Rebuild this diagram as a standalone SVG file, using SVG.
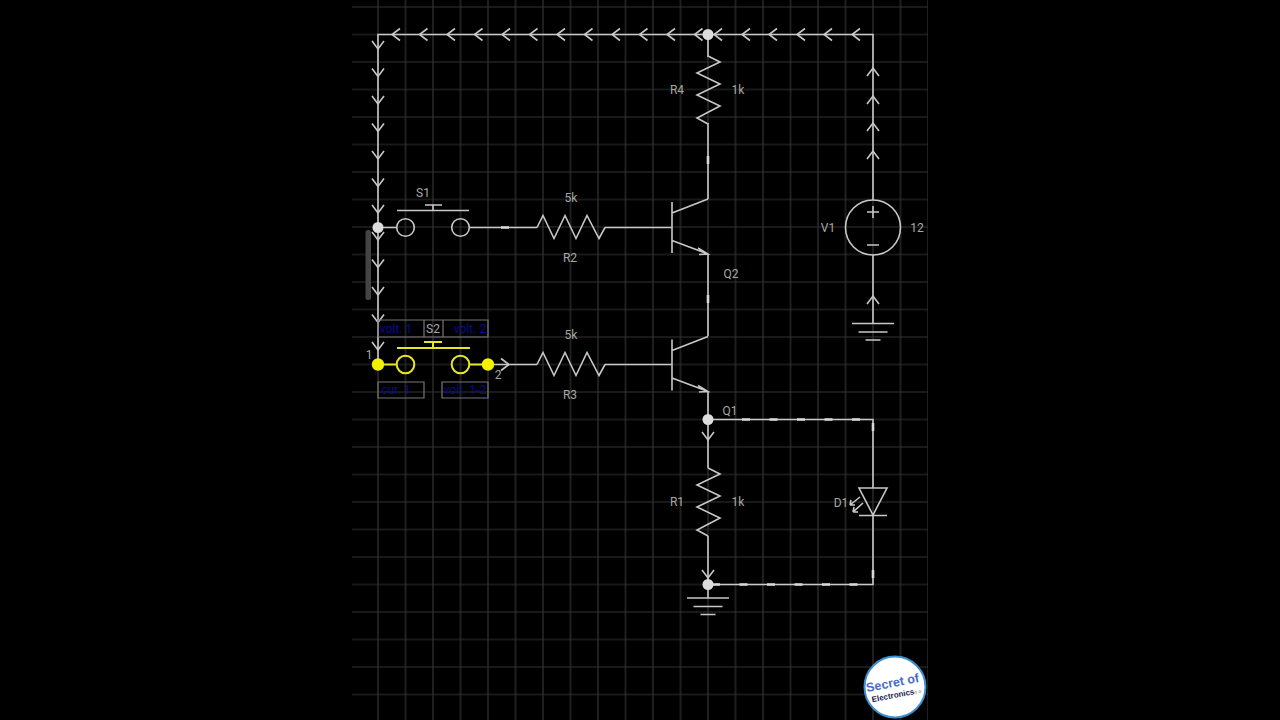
<svg xmlns="http://www.w3.org/2000/svg" width="1280" height="720" viewBox="0 0 1280 720">
<style>
.g{stroke:#323232;stroke-width:1.2;fill:none}
.w{stroke:#c8c8c8;stroke-width:1.6;fill:none}
.h{stroke:#d8d8d8;stroke-width:2.6;fill:none}
.y{stroke:#e8e820;stroke-width:2;fill:none}
.b{stroke:#777;stroke-width:1.2;fill:none}
.n{fill:#ddd}
.yn{fill:#f2f200}
text{font-family:Roboto,"Liberation Sans",sans-serif;font-size:12px;fill:#a8a8a8;text-anchor:middle}
.v{fill:#0a0a90}
</style>
<defs>
<pattern id="grid" x="336.750" y="-6.750" width="27.5" height="27.5" patternUnits="userSpaceOnUse">
<path d="M0,13.750H27.5M13.750,0V27.5" class="g"/>
</pattern>
<path id="c" d="M-8,-6L0,0L-8,6" class="w"/>
<path id="zz" d="M0,0L6,-12L17,11L28,-12L39,11L50,-12L62,11L68,0" class="w"/>
<g id="gnd"><path d="M-21,0H21M-14.5,8.500H14.500M-7.500,16.500H7.500" class="w"/></g>
<g id="npn"><path d="M0,0V51M0,11L36,-3M0,38.500L36,52M26,46L36,52L27,52.500" class="w"/></g>
</defs>
<rect width="1280" height="720" fill="#000"/>
<rect id="grid-area" x="352" y="0" width="576" height="720" fill="url(#grid)"/>
<rect id="scrollbar" x="365.500" y="230" width="5.500" height="70" rx="2.500" fill="#444"/>

<g id="connectors">
<path class="w" d="M873,200V34.500H378V365M378,227.500H396M469,227.500H537M605,227.500H672M488,364.500H537M605,364.500H672M708,34.500V57M708,123V199M708,254V336M708,391V468M708,536V584.500M708,584.500V598M708,419.500H873V488M873,515V584.500H708M873,255V323"/>
<path class="h" d="M742,419.500H860M712,584.500H860" stroke-dasharray="8 19.500"/>
<path class="h" d="M873,423V431M873,570V578M708,156V164M708,295V303M501,227.500H509"/>
<g id="arrows">
<use href="#c" transform="translate(392,34.500) rotate(180)"/><use href="#c" transform="translate(419.500,34.500) rotate(180)"/><use href="#c" transform="translate(447,34.500) rotate(180)"/><use href="#c" transform="translate(474.500,34.500) rotate(180)"/><use href="#c" transform="translate(502,34.500) rotate(180)"/><use href="#c" transform="translate(529.500,34.500) rotate(180)"/><use href="#c" transform="translate(557,34.500) rotate(180)"/><use href="#c" transform="translate(584.500,34.500) rotate(180)"/><use href="#c" transform="translate(612,34.500) rotate(180)"/><use href="#c" transform="translate(639.500,34.500) rotate(180)"/><use href="#c" transform="translate(667,34.500) rotate(180)"/><use href="#c" transform="translate(694.500,34.500) rotate(180)"/>
<use href="#c" transform="translate(714,34.500) rotate(180)"/><use href="#c" transform="translate(742,34.500) rotate(180)"/><use href="#c" transform="translate(769,34.500) rotate(180)"/><use href="#c" transform="translate(797,34.500) rotate(180)"/><use href="#c" transform="translate(824,34.500) rotate(180)"/><use href="#c" transform="translate(852,34.500) rotate(180)"/>
<use href="#c" transform="translate(378,49) rotate(90)"/><use href="#c" transform="translate(378,76.500) rotate(90)"/><use href="#c" transform="translate(378,104) rotate(90)"/><use href="#c" transform="translate(378,131.500) rotate(90)"/><use href="#c" transform="translate(378,159) rotate(90)"/><use href="#c" transform="translate(378,186.500) rotate(90)"/><use href="#c" transform="translate(378,213) rotate(90)"/><use href="#c" transform="translate(378,240) rotate(90)"/><use href="#c" transform="translate(378,267.500) rotate(90)"/><use href="#c" transform="translate(378,295) rotate(90)"/><use href="#c" transform="translate(378,322.500) rotate(90)"/><use href="#c" transform="translate(378,350) rotate(90)"/>
<use href="#c" transform="translate(873,68) rotate(-90)"/><use href="#c" transform="translate(873,96) rotate(-90)"/><use href="#c" transform="translate(873,123) rotate(-90)"/><use href="#c" transform="translate(873,151) rotate(-90)"/><use href="#c" transform="translate(873,296) rotate(-90)"/>
<use href="#c" transform="translate(708,440) rotate(90)"/><use href="#c" transform="translate(708,578) rotate(90)"/>
<use href="#c" transform="translate(509,364.500)"/>
</g>
<circle class="n" cx="708" cy="34.500" r="5.500"/>
<circle class="n" cx="378" cy="227.500" r="5.500"/>
<circle class="n" cx="708" cy="419.500" r="5.500"/>
<circle class="n" cx="708" cy="584.500" r="5.500"/>
</g>

<g id="R4"><use href="#zz" transform="translate(708,56) rotate(90)"/><text x="677" y="94">R4</text><text x="738" y="94">1k</text></g>
<g id="R1"><use href="#zz" transform="translate(708,468) rotate(90)"/><text x="677" y="506">R1</text><text x="738" y="506">1k</text></g>
<g id="R2"><use href="#zz" transform="translate(537,227.500)"/><text x="571" y="202">5k</text><text x="570" y="262">R2</text></g>
<g id="R3"><use href="#zz" transform="translate(537,364.500)"/><text x="571" y="339">5k</text><text x="570" y="399">R3</text></g>
<g id="S1"><circle class="w" cx="405.500" cy="227.500" r="8.800"/><circle class="w" cx="460.500" cy="227.500" r="8.800"/><path class="w" d="M397,210.500H469M433,210.500V205M425,205H442"/><text x="423" y="197">S1</text></g>
<g id="S2">
<path class="b" d="M378,320H488V337H378ZM424,320V337M443,320V337M378,382H424V398H378ZM442,382H488V398H442Z"/>
<text class="v" x="396" y="333">volt. 1</text><text x="433" y="333">S2</text><text class="v" x="470" y="333">volt. 2</text>
<text class="v" x="396" y="394">cur. 1</text><text class="v" x="465" y="394">volt. 1-2</text>
<path class="y" d="M378,364.500H396.500M469.500,364.500H488M397,348H470M433,348V342M424,342H442"/>
<circle class="y" cx="405.500" cy="364.500" r="8.800"/><circle class="y" cx="460.500" cy="364.500" r="8.800"/>
<circle class="yn" cx="378" cy="364.500" r="6.200"/><circle class="yn" cx="488" cy="364.500" r="6.200"/>
<text x="369" y="359">1</text><text x="498" y="379">2</text>
</g>
<g id="Q2"><use href="#npn" transform="translate(672,202)"/><text x="731" y="278">Q2</text></g>
<g id="Q1"><use href="#npn" transform="translate(672,339.500)"/><text x="730" y="415">Q1</text></g>
<g id="V1"><circle class="w" cx="873" cy="227.500" r="27.500" fill="none"/><path class="w" d="M867,212H879M873,206V218M867,245H879"/><text x="828" y="232">V1</text><text x="917" y="232">12</text><use href="#gnd" transform="translate(873,323.500)"/></g>
<g id="D1"><path class="w" d="M859,488H887L873,515ZM859,515.500H887M860,497L850,505M850,505L851,500M850,505L855,505M863,503L853,512M853,512L854,507M853,512L858,512"/><text x="841" y="507">D1</text></g>
<g id="GND"><use href="#gnd" transform="translate(708,598)"/></g>
<g id="logo">
<circle cx="895" cy="687" r="30.500" fill="#fff" stroke="#3d8fce" stroke-width="2"/>
<g transform="rotate(-11 893 685)">
<text x="893" y="687" style="font-size:12.500px;font-weight:700;fill:#4a6cc8;font-family:'Liberation Sans',sans-serif">Secret of</text>
<text x="891" y="698" style="font-size:8px;font-weight:700;fill:#1a1a50;font-family:'Liberation Sans',sans-serif">Electronics</text>
<text x="916" y="698" style="font-size:5px;fill:#777">o.o</text>
</g>
</g>
</svg>
